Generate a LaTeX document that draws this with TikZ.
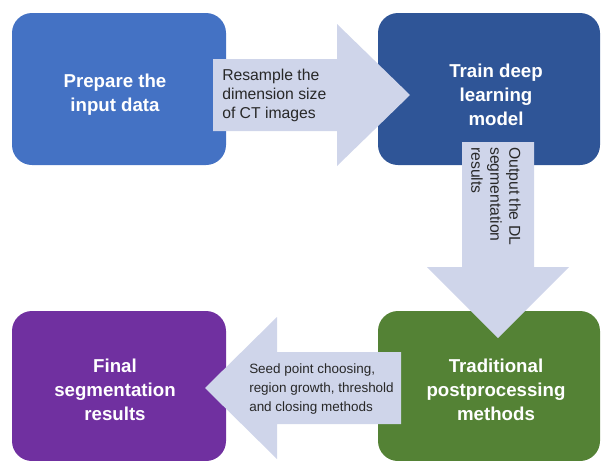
\documentclass[tikz,border=0pt]{standalone}
\usepackage{fontspec}
\setmainfont{Liberation Sans}
\definecolor{prepblue}{RGB}{68,114,196}
\definecolor{trainblue}{RGB}{47,85,151}
\definecolor{postgreen}{RGB}{84,130,53}
\definecolor{finalpurple}{RGB}{112,48,160}
\definecolor{flowfill}{RGB}{207,213,234}
\definecolor{notegray}{RGB}{40,40,40}

\begin{document}
\begin{tikzpicture}
[x=0.75pt,y=-0.75pt,
stage/.style={rectangle,rounded corners=15pt,inner sep=0pt,minimum height=114pt},
stagetext/.style={text=white,font=\fontsize{14}{18}\selectfont\bfseries,align=center},
flow/.style={fill=flowfill,draw=none},
note/.style={text=notegray,font=\fontsize{11.8}{14.25}\selectfont,align=left,inner sep=0pt}]

\useasboundingbox (0,0) rectangle (601,461);
\clip (0,0) rectangle (601,461);

% the four stages
\node[stage,fill=prepblue,minimum width=160.5pt] (prepbox) at (119,89) {};
\node[stage,fill=trainblue,minimum width=166.5pt] (trainbox) at (489,89) {};
\node[stage,fill=finalpurple,minimum width=160.5pt,minimum height=112.5pt] (finalbox) at (119,386) {};
\node[stage,fill=postgreen,minimum width=166.5pt,minimum height=112.5pt] (postbox) at (489,386) {};

\node[stagetext] (prep) at (115,95) {Prepare the\\input data};
\node[stagetext] (train) at (496,95) {Train deep\\learning\\model};
\node[stagetext] (final) at (115,390) {Final\\segmentation\\results};
\node[stagetext] (post) at (496,390) {Traditional\\postprocessing\\methods};

% block arrows between the stages
\fill[flow] (213,59) -- (337,59) -- (337,24) -- (410,95) -- (337,166) -- (337,131) -- (213,131) -- cycle;
\node[note,anchor=west] (resample) at (222,95) {Resample the\\dimension size\\of CT images};

\fill[flow] (462,142) -- (534,142) -- (534,267) -- (569,267) -- (498,338) -- (427,267) -- (462,267) -- cycle;
\node[note,rotate=-90,anchor=west] (output) at (496,147) {Output the DL\\segmentation\\results};

\fill[flow] (401,352) -- (277,352) -- (277,317) -- (205,388) -- (277,459) -- (277,424) -- (401,424) -- cycle;
\node[note,font=\fontsize{10.1}{13.9}\selectfont,anchor=west] (seed) at (249,389) {Seed point choosing,\\region growth, threshold\\and closing methods};

\end{tikzpicture}
\end{document}
